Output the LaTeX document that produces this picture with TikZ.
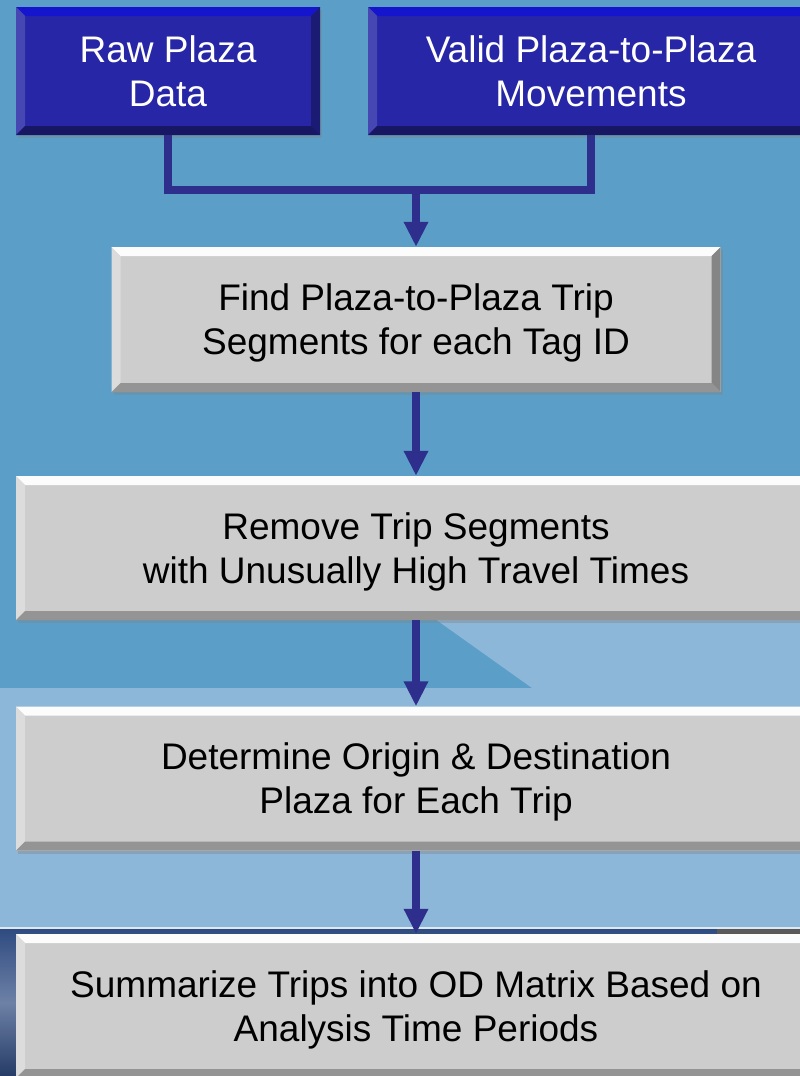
\documentclass[tikz,border=0pt]{standalone}
\usepackage{fontspec}
\setmainfont{Liberation Sans}
\usetikzlibrary{arrows.meta,shadows,calc}

\definecolor{bgdark}{HTML}{5B9FC9}
\definecolor{bglight}{HTML}{8DB7D8}
\definecolor{bgnavy}{HTML}{2F4B80}
\definecolor{boxblue}{HTML}{2626A6}
\definecolor{linkblue}{HTML}{2E2E8C}
\definecolor{boxgray}{HTML}{CDCDCD}

\def\bw{9pt}
\tikzset{
  bevel/.style n args={4}{path picture={
      \path (path picture bounding box.north west) coordinate (p1)
            (path picture bounding box.north east) coordinate (p2)
            (path picture bounding box.south east) coordinate (p3)
            (path picture bounding box.south west) coordinate (p4);
      \fill[#1] (p1) -- (p2) -- ([shift={(-\bw,-\bw)}]p2) -- ([shift={(\bw,-\bw)}]p1) -- cycle;
      \fill[#2] (p1) -- ([shift={(\bw,-\bw)}]p1) -- ([shift={(\bw,\bw)}]p4) -- (p4) -- cycle;
      \fill[#3] (p2) -- (p3) -- ([shift={(-\bw,\bw)}]p3) -- ([shift={(-\bw,-\bw)}]p2) -- cycle;
      \fill[#4] (p4) -- (p3) -- ([shift={(-\bw,\bw)}]p3) -- ([shift={(\bw,\bw)}]p4) -- cycle;
  }},
  boxfont/.style={font=\fontsize{37}{44}\selectfont, align=center, inner sep=0pt},
  source/.style={boxfont, text=white, fill=boxblue,
      bevel={blue!45!boxblue}{boxblue!85!white}{boxblue!70!black}{boxblue!60!black},
      drop shadow={opacity=0.35, shadow xshift=2pt, shadow yshift=-3pt},
      minimum height=128pt},
  process/.style={boxfont, text=black, fill=boxgray, text depth=0pt,
      bevel={white!95!boxgray}{boxgray!70!white}{boxgray!65!black}{boxgray!72!black},
      drop shadow={opacity=0.35, shadow xshift=2pt, shadow yshift=-3pt},
      minimum height=144pt},
  link/.style={linkblue, line width=8pt},
  arr/.style={link, -{Triangle[width=23pt,length=25pt]}}
}

\begin{document}
\begin{tikzpicture}[x=1pt,y=-1pt]
    \clip (0,0) rectangle (800,1076);

    % background
    \fill[bgdark] (0,0) rectangle (800,1076);
    \fill[bglight] (0,688) -- (532,688) -- (400,594) -- (800,594) -- (800,1076) -- (0,1076) -- cycle;
    \shade[top color=bgnavy, bottom color=bgnavy!80!black, middle color=bgnavy!70!white] (0,929) rectangle (800,1076);
    \fill[gray!70!black] (717,929) rectangle (800,934);
    \fill[white!70!bglight] (0,926.5) rectangle (800,929);

    % data sources
    \node[source, minimum width=304pt] (raw) at (168,71) {Raw Plaza\\Data};
    \node[source, minimum width=446pt] (valid) at (591,71) {Valid Plaza-to-Plaza\\Movements};

    % processing steps
    \node[process, minimum width=609pt, minimum height=145pt] (find) at (416,319.5)
        {Find Plaza-to-Plaza Trip\\Segments for each Tag ID};
    \node[process, minimum width=800pt] (remove) at (416,548)
        {Remove Trip Segments\\with Unusually High Travel Times};
    \node[process, minimum width=800pt] (origin) at (416,778.5)
        {Determine Origin \& Destination\\Plaza for Each Trip};
    \node[process, minimum width=800pt] (summary) at (416,1006)
        {Summarize Trips into OD Matrix Based on\\Analysis Time Periods};

    % connectors
    \coordinate (merge) at (416,190);
    \draw[link] (raw.south) -- ++(0,55) -| (valid.south);
    \draw[arr] (merge) -- (find.north);
    \draw[arr] (find.south) -- (remove.north);
    \draw[arr] (remove.south) -- (origin.north);
    \draw[arr] (origin.south) -- (summary.north);
\end{tikzpicture}
\end{document}
